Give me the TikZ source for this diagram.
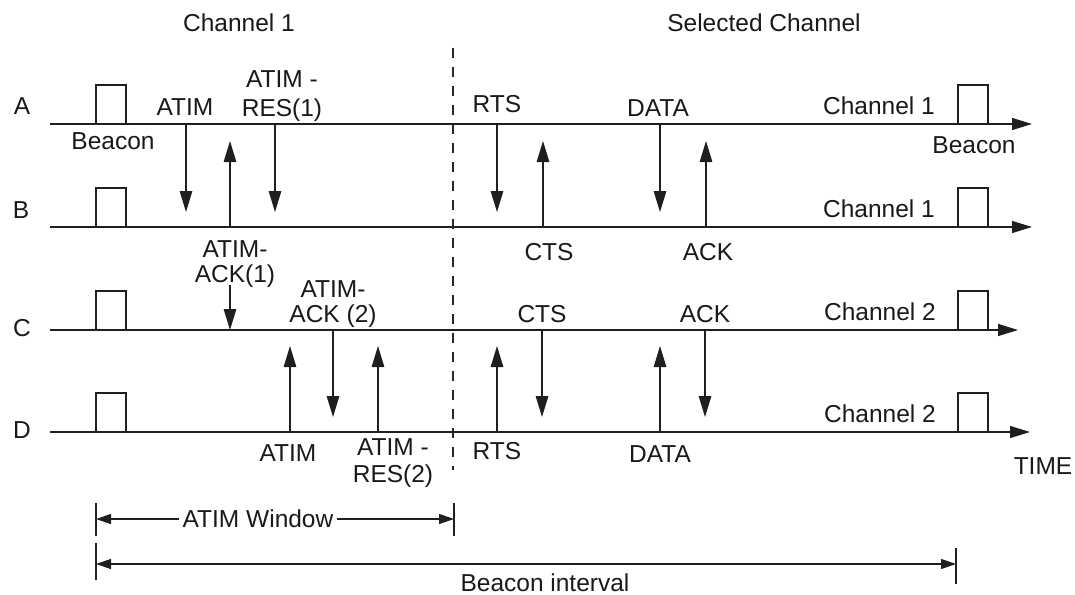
\documentclass[tikz,border=0pt]{standalone}
\usepackage{fontspec}
\setmainfont{Liberation Sans}
\usetikzlibrary{arrows.meta}
\begin{document}
\begin{tikzpicture}[x=1pt,y=-1pt,
  ln/.style={line width=1.3pt, draw=black!88},
  tl/.style={ln,-{Triangle[length=20pt,width=12pt]}},
  msg/.style={ln,-{Triangle[length=21pt,width=12.5pt]}},
  dim/.style={ln,-{Triangle[length=15pt,width=10pt]}},
  dimboth/.style={ln,{Triangle[length=15pt,width=10pt]}-{Triangle[length=15pt,width=10pt]}},
  lbl/.style={anchor=base, font=\fontsize{24.5}{28}\selectfont, inner sep=0pt, text=black!90},
  sep/.style={line width=1.1pt, draw=black!85, dash pattern=on 10pt off 9pt}]
\useasboundingbox (0,0) rectangle (1075,594);

% time lines and beacon boxes
\foreach \n/\y/\e in {A/124/1032, B/227/1032, C/330/1018, D/432/1030} {
  \coordinate (\n s) at (50,\y);
  \coordinate (\n e) at (\e,\y);
  \draw[tl] (\n s) -- (\n e);
  \draw[ln] (96,\y) |- (126,\y-39) -- (126,\y);
  \draw[ln] (958,\y) |- (988,\y-39) -- (988,\y);
}

% separator
\coordinate (sepT) at (453,48);
\coordinate (sepB) at (453,470);
\draw[sep] (sepT) -- (sepB);

% station labels
\node[lbl] (la) at (22,114) {A};
\node[lbl] (lb) at (21,218) {B};
\node[lbl] (lc) at (22,336) {C};
\node[lbl] (ld) at (22,438) {D};

% headers
\node[lbl] (h1) at (239,32) {Channel 1};
\node[lbl] (h2) at (764,32) {Selected Channel};

% message arrows
\foreach \i/\x/\ya/\yb in {
  1/186/124/212, 2/275/124/212, 3/497/124/212, 4/660/124/212,
  5/230/227/141, 6/543/227/141, 7/706/227/141,
  8/230/285/330,
  9/290/432/346, 10/378/432/346, 11/497/432/346, 12/660/432/346,
  13/333/330/417, 14/542/330/417, 15/705/330/417} {
  \coordinate (m\i s) at (\x,\ya);
  \coordinate (m\i e) at (\x,\yb);
  \draw[msg] (m\i s) -- (m\i e);
}

% labels
\node[lbl] (t1) at (185,115) {ATIM};
\node[lbl] (t2) at (282,87) {ATIM -};
\node[lbl] (t3) at (282,116) {RES(1)};
\node[lbl] (t4) at (113,149) {Beacon};
\node[lbl] (t5) at (235,257) {ATIM-};
\node[lbl] (t6) at (235,282) {ACK(1)};
\node[lbl] (t7) at (333,297) {ATIM-};
\node[lbl] (t8) at (333,322) {ACK (2)};
\node[lbl] (t9) at (288,461) {ATIM};
\node[lbl] (t10) at (393,455) {ATIM -};
\node[lbl] (t11) at (393,482) {RES(2)};
\node[lbl] (t12) at (497,112) {RTS};
\node[lbl] (t13) at (658,116) {DATA};
\node[lbl] (t14) at (879,114) {Channel 1};
\node[lbl] (t15) at (974,153) {Beacon};
\node[lbl] (t16) at (879,217) {Channel 1};
\node[lbl] (t17) at (549,260) {CTS};
\node[lbl] (t18) at (708,260) {ACK};
\node[lbl] (t19) at (542,322) {CTS};
\node[lbl] (t20) at (705,322) {ACK};
\node[lbl] (t21) at (880,320) {Channel 2};
\node[lbl] (t22) at (880,422) {Channel 2};
\node[lbl] (t23) at (497,459) {RTS};
\node[lbl] (t24) at (660,462) {DATA};
\node[lbl] (t25) at (1043,474) {TIME};

% ATIM window
\coordinate (w1t) at (96,503);
\coordinate (w1b) at (96,536);
\coordinate (w2t) at (454,503);
\coordinate (w2b) at (454,536);
\draw[ln] (w1t) -- (w1b);
\draw[ln] (w2t) -- (w2b);
\node[lbl, inner xsep=3pt] (aw) at (258,527) {ATIM Window};
\coordinate (awl) at (96,519);
\coordinate (awr) at (454,519);
\draw[dim] (aw.west |- awl) -- (awl);
\draw[dim] (aw.east |- awr) -- (awr);

% beacon interval
\coordinate (b1t) at (96,543);
\coordinate (b1b) at (96,580);
\coordinate (b2t) at (956,548);
\coordinate (b2b) at (956,584);
\draw[ln] (b1t) -- (b1b);
\draw[ln] (b2t) -- (b2b);
\coordinate (bil) at (96,564);
\coordinate (bir) at (956,564);
\draw[dimboth] (bil) -- (bir);
\node[lbl] (bi) at (545,591) {Beacon interval};
\end{tikzpicture}
\end{document}
